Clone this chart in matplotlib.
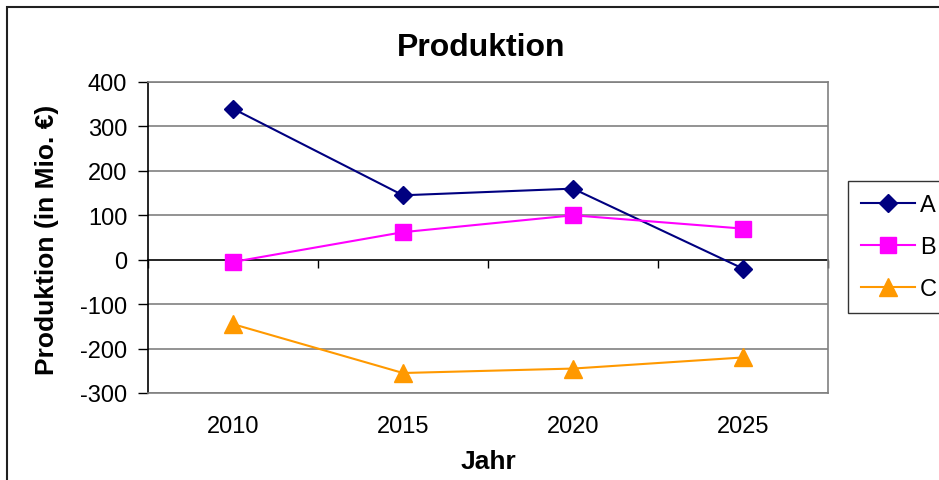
import numpy as np
import matplotlib.pyplot as plt
from matplotlib.patches import Rectangle
from matplotlib.transforms import Bbox

plt.rcParams['font.family'] = ['Liberation Sans', 'DejaVu Sans']

# --- data ---
years = ['2010', '2015', '2020', '2025']
serie_a = [340, 145, 160, -20]
serie_b = [-5, 62, 100, 70]
serie_c = [-145, -255, -245, -220]
yticks = list(range(-300, 401, 100))

W, H = 939, 481
fig = plt.figure(figsize=(W / 100, H / 100), dpi=100)

# outer chart frame (right and bottom edge are cut off in the original)
fig.patches.append(Rectangle((7 / W, -0.5), 2, 1.5 - 8 / H, transform=fig.transFigure,
                             fill=False, edgecolor='#202020', linewidth=1.5))

ax = fig.add_axes([148 / W, 1 - 394 / H, 680 / W, 311 / H])

x = np.arange(len(years))
ax.plot(x, serie_a, color='#000080', lw=1.5, marker='D', ms=9, label='A', zorder=3)
ax.plot(x, serie_b, color='#FF00FF', lw=1.5, marker='s', ms=11, label='B', zorder=3)
ax.plot(x, serie_c, color='#FF9900', lw=1.5, marker='^', ms=13, label='C', zorder=3)

ax.set_xlim(-0.5, len(years) - 0.5)
ax.set_ylim(min(yticks), max(yticks))
ax.set_yticks(yticks)
ax.set_yticklabels([str(t) for t in yticks], fontsize=17)
ax.set_xticks(x)
ax.set_xticklabels(years, fontsize=17)
ax.tick_params(axis='x', length=0, pad=16)
ax.tick_params(axis='y', direction='out', length=7, width=1, color='black', pad=8)

# grid lines and plot-area border
for t in yticks:
    if t != 0:
        ax.axhline(t, color='#808080', lw=1.2, zorder=1)
for side in ['top', 'right', 'bottom']:
    ax.spines[side].set_color('#808080')
    ax.spines[side].set_linewidth(1.2)
ax.spines['left'].set_color('black')
ax.spines['left'].set_linewidth(1.2)

# category axis crossing at zero, ticks between categories
zax = ax.secondary_xaxis(0, transform=ax.transData)
zax.set_xticks(np.arange(len(years) + 1) - 0.5)
zax.set_xticklabels([])
zax.tick_params(direction='out', length=6, width=1, color='black')
zax.spines['bottom'].set_color('black')
zax.spines['bottom'].set_linewidth(1.2)

fig.text(481 / W, 1 - 48 / H, 'Produktion', fontsize=23, fontweight='bold',
         ha='center', va='center')
fig.text(488 / W, 1 - 462 / H, 'Jahr', fontsize=19, fontweight='bold',
         ha='center', va='center')
yl = fig.text(47 / W, 1 - 240 / H, 'Produktion (in Mio. €)', fontsize=19,
              fontweight='bold', rotation=90, ha='center', va='center')
yl.set_clip_box(Bbox([[0, 0], [W, H - 104]]))
yl.set_clip_on(True)

leg = fig.legend(loc='upper left', bbox_to_anchor=(848 / W, 1 - 182 / H), fontsize=17,
                 frameon=True, fancybox=False, edgecolor='black', handlelength=2.3,
                 handletextpad=0.2, labelspacing=0.85, borderpad=0.55,
                 borderaxespad=0)
leg.get_frame().set_linewidth(1.0)

fig.savefig('out.png', dpi=100)
